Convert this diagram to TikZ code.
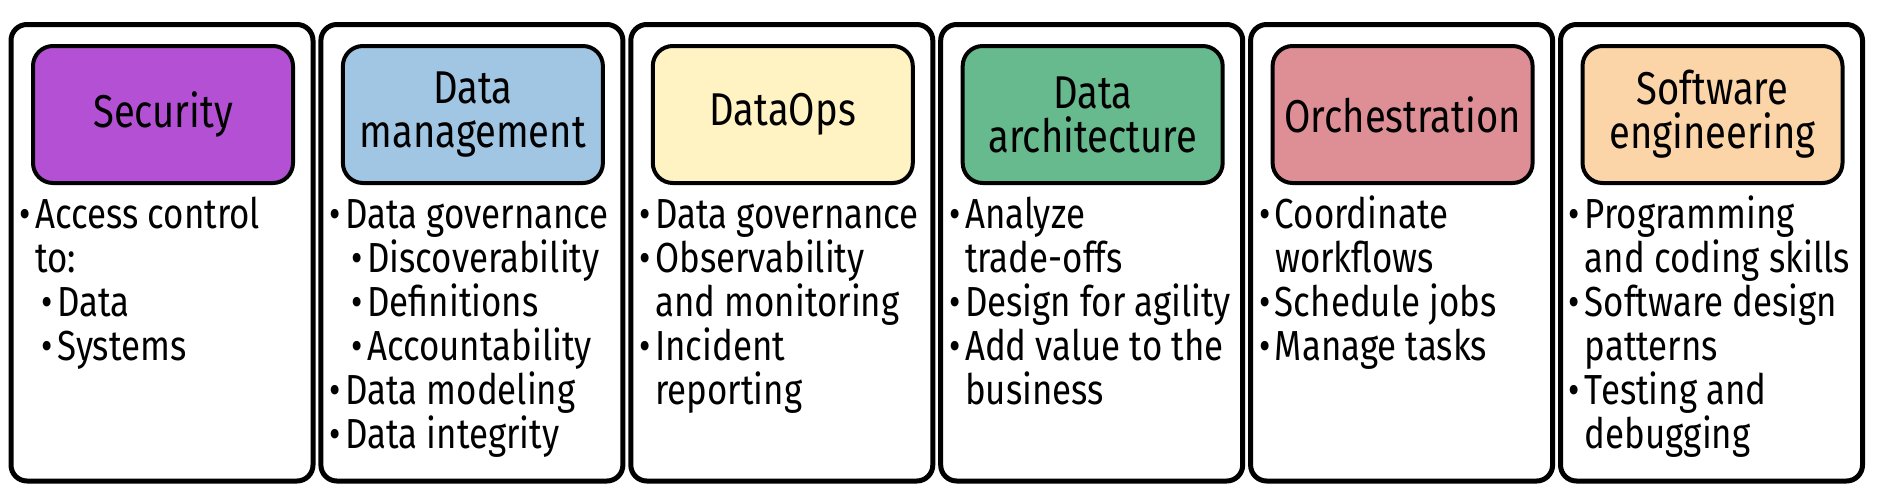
\documentclass[tikz,border=0pt]{standalone}
\usepackage{fontspec}
\setmainfont{Fira Sans}[FakeStretch=0.83]
\definecolor{cSec}{RGB}{180,80,212}
\definecolor{cDM}{RGB}{160,198,228}
\definecolor{cDO}{RGB}{255,243,196}
\definecolor{cDA}{RGB}{102,186,142}
\definecolor{cOr}{RGB}{222,143,150}
\definecolor{cSE}{RGB}{251,213,168}
\newcommand\li[1]{\makebox[8pt][l]{•}#1\par}
\newcommand\lc[1]{\hspace*{8pt}#1\par}
\newcommand\ls[1]{\hspace*{11pt}\makebox[8pt][l]{•}#1\par}
\newcommand\bodyfont{\fontsize{21}{22}\selectfont}
\begin{document}
\begin{tikzpicture}[x=0.5pt,y=-0.5pt,
  outerbox/.style={draw, line width=2.5pt, rounded corners=8pt, minimum width=151pt, minimum height=228.25pt, inner sep=0pt},
  titlebox/.style={draw, line width=2pt, rounded corners=10pt, minimum width=130pt, minimum height=68.5pt, inner sep=0pt, align=center, font=\fontsize{23}{22}\selectfont},
  bodytext/.style={anchor=base west, inner sep=0pt}]
\useasboundingbox (0,0) rectangle (1881,498);
% outer boxes
\node[outerbox] (o1) at (162,252.75) {};
\node[outerbox] (o2) at (471.9,252.75) {};
\node[outerbox] (o3) at (781.8,252.75) {};
\node[outerbox] (o4) at (1091.7,252.75) {};
\node[outerbox] (o5) at (1401.6,252.75) {};
\node[outerbox] (o6) at (1711.5,252.75) {};
% titles
\node[titlebox, fill=cSec] (t1) at (163,114.5) {Security};
\node[titlebox, fill=cDM] (t2) at (472.9,114.5) {Data\\management};
\node[titlebox, fill=cDO] (t3) at (782.8,114.5) {DataOps};
\node[titlebox, fill=cDA] (t4) at (1092.7,114.5) {Data\\architecture};
\node[titlebox, fill=cOr] (t5) at (1402.6,114.5) {Orchestration};
\node[titlebox, fill=cSE] (t6) at (1712.5,114.5) {Software\\engineering};
% body texts
\node[bodytext] (b1) at (19,228) {\parbox[t]{150pt}{\bodyfont
  \li{Access control}\lc{to:}\ls{Data}\ls{Systems}}};
\node[bodytext] (b2) at (328.9,228) {\parbox[t]{150pt}{\bodyfont
  \li{Data governance}\ls{Discoverability}\ls{Definitions}\ls{Accountability}\li{Data modeling}\li{Data integrity}}};
\node[bodytext] (b3) at (638.8,228) {\parbox[t]{150pt}{\bodyfont
  \li{Data governance}\li{Observability}\lc{and monitoring}\li{Incident}\lc{reporting}}};
\node[bodytext] (b4) at (948.7,228) {\parbox[t]{150pt}{\bodyfont
  \li{Analyze}\lc{trade-offs}\li{Design for agility}\li{Add value to the}\lc{business}}};
\node[bodytext] (b5) at (1258.6,228) {\parbox[t]{150pt}{\bodyfont
  \li{Coordinate}\lc{workflows}\li{Schedule jobs}\li{Manage tasks}}};
\node[bodytext] (b6) at (1568.5,228) {\parbox[t]{150pt}{\bodyfont
  \li{Programming}\lc{and coding skills}\li{Software design}\lc{patterns}\li{Testing and}\lc{debugging}}};
\end{tikzpicture}
\end{document}
